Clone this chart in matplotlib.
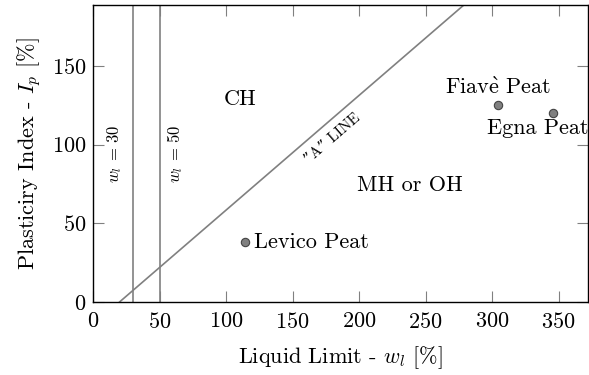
import numpy as np
import matplotlib
matplotlib.use("Agg")
import matplotlib.pyplot as plt

plt.rcParams['font.family'] = ['cmr10', 'DejaVu Serif']
plt.rcParams['mathtext.fontset'] = 'cm'
plt.rcParams['axes.formatter.use_mathtext'] = True

# samples (liquid limit, plasticity index)
names = ['Levico Peat', 'Fiav$\\grave{\\mathrm{e}}$ Peat', 'Egna Peat']
wl = [114, 304.5, 346]
ip = [38.2, 125.5, 120.4]

xticks = [0, 50, 100, 150, 200, 250, 300, 350]
yticks = [0, 50, 100, 150]
wl_limits = [30, 50]

gray = '#808080'
fs = 16

fig = plt.figure(figsize=(5.89, 3.75), dpi=100)
ax = fig.add_axes([0.158, 0.195, 0.84, 0.792])
ax.set_xlim(0, 372)
ax.set_ylim(0, 189)

# A line: Ip = 0.73 (wl - 20)
xa = np.array([20, 400])
ax.plot(xa, 0.73 * (xa - 20), color=gray, lw=1.2)
for v in wl_limits:
    ax.axvline(v, color=gray, lw=1.2)

ax.plot(wl, ip, 'o', ms=6, mfc=gray, mec='#444444', mew=0.8)

ax.text(wl[0] + 7, ip[0], names[0], fontsize=fs, va='center', ha='left')
ax.text(wl[1], ip[1] + 4.5, names[1], fontsize=fs, va='bottom', ha='center')
ax.text(334, ip[2] - 4, names[2], fontsize=fs, va='top', ha='center')

ax.text(110.5, 128.7, 'CH', fontsize=fs, ha='center', va='center')
ax.text(238, 74.5, 'MH or OH', fontsize=fs, ha='center', va='center')
ax.text(180, 104, '\u201dA\u201d LINE', fontsize=11, rotation=40.8,
        ha='center', va='center', rotation_mode='anchor')
ax.text(16.5, 94, '$w_l$ = 30', fontsize=12, rotation=90, ha='center', va='center')
ax.text(62, 94, '$w_l$ = 50', fontsize=12, rotation=90, ha='center', va='center')

ax.set_xticks(xticks)
ax.set_yticks(yticks)
ax.tick_params(direction='in', length=8, width=0.8, color=gray, labelsize=fs,
               top=True, right=True)
ax.tick_params(axis='x', pad=7)
ax.tick_params(axis='y', pad=5)
for s in ax.spines.values():
    s.set_linewidth(1.0)

ax.set_xlabel('Liquid Limit - $w_l$ [%]', fontsize=fs, labelpad=9)
ax.set_ylabel('Plasticiry Index - $I_p$ [%]', fontsize=fs, labelpad=6)

fig.savefig('out.png', dpi=100)
